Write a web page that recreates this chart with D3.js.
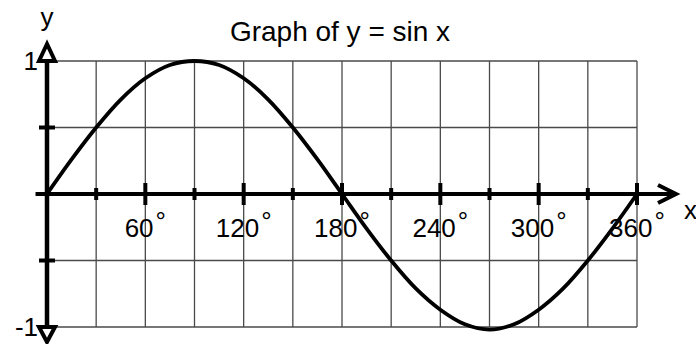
<!DOCTYPE html>
<html>
<head>
<meta charset="utf-8">
<script src="https://cdn.jsdelivr.net/npm/d3@7"></script>
<style>
  html, body { margin: 0; padding: 0; background: #fff; }
  svg { display: block; font-family: "Liberation Sans", Arial, sans-serif; }
</style>
</head>
<body>
<div id="chart"></div>
<script>
// ---------- DATA ----------
const angles = [0, 15, 30, 45, 60, 75, 90, 105, 120, 135, 150, 165, 180,
                195, 210, 225, 240, 255, 270, 285, 300, 315, 330, 345, 360];
const sinValues = [0, 0.26, 0.5, 0.71, 0.87, 0.97, 1.0, 0.97, 0.87, 0.71, 0.5, 0.26, 0,
                   -0.26, -0.5, -0.71, -0.87, -0.98, -1.02, -0.98, -0.87, -0.71, -0.5, -0.26, 0];
const gridX = [0, 30, 60, 90, 120, 150, 180, 210, 240, 270, 300, 330, 360];
const gridY = [-1, -0.5, 0, 0.5, 1];
const minorTicksX = [30, 90, 150, 210, 270, 330];
const majorTicksX = [60, 120, 180, 240, 300, 360];
const ticksY = [-0.5, 0.5];
const yLabels = [{ v: 1, t: "1" }, { v: -1, t: "-1" }];
const title = "Graph of y = sin x";

const W = 696, H = 344;

const svg = d3.select("#chart").append("svg")
  .attr("width", W)
  .attr("height", H);

// ---------- SCALES ----------
const x = d3.scaleLinear().domain([0, 360]).range([47, 637]);
const y = d3.scaleLinear().domain([-1, 1]).range([327, 61]);

// ---------- GRID ----------
const grid = svg.append("g").attr("stroke", "#4a4a4a").attr("stroke-width", 1.3);
grid.selectAll(".vg").data(gridX).join("line")
  .attr("x1", d => x(d)).attr("x2", d => x(d))
  .attr("y1", y(1)).attr("y2", y(-1));
grid.selectAll(".hg").data(gridY).join("line")
  .attr("x1", x(0)).attr("x2", x(360))
  .attr("y1", d => y(d)).attr("y2", d => y(d));

// ---------- AXES ----------
const axes = svg.append("g").attr("stroke", "#000").attr("fill", "none");

// x axis
axes.append("line")
  .attr("x1", x(-7)).attr("x2", x(360) + 37)
  .attr("y1", y(0)).attr("y2", y(0))
  .attr("stroke-width", 4);
axes.append("path")
  .attr("d", `M${x(360) + 21},${y(0) - 9} L${x(360) + 39},${y(0)} L${x(360) + 21},${y(0) + 9}`)
  .attr("stroke-width", 4)
  .attr("stroke-linejoin", "miter");

// y axis
axes.append("line")
  .attr("x1", x(0)).attr("x2", x(0))
  .attr("y1", y(1) - 14).attr("y2", y(-1) + 12)
  .attr("stroke-width", 4.5);
axes.append("path")
  .attr("d", `M${x(0)},${y(1) - 17} L${x(0) - 8},${y(1)} L${x(0) + 8},${y(1)} Z`)
  .attr("fill", "#fff")
  .attr("stroke-width", 4)
  .attr("stroke-linejoin", "miter");
axes.append("path")
  .attr("d", `M${x(0)},${y(-1) + 15} L${x(0) - 8},${y(-1)} L${x(0) + 8},${y(-1)} Z`)
  .attr("fill", "#fff")
  .attr("stroke-width", 4)
  .attr("stroke-linejoin", "miter");

// ticks
axes.selectAll(".minor").data(minorTicksX).join("line")
  .attr("x1", d => x(d)).attr("x2", d => x(d))
  .attr("y1", y(0) - 6).attr("y2", y(0) + 6)
  .attr("stroke-width", 4);
axes.selectAll(".major").data(majorTicksX).join("line")
  .attr("x1", d => x(d)).attr("x2", d => x(d))
  .attr("y1", y(0) - 11).attr("y2", y(0) + 11)
  .attr("stroke-width", 4);
axes.selectAll(".ytick").data(ticksY).join("line")
  .attr("x1", x(0) - 8).attr("x2", x(0) + 8)
  .attr("y1", d => y(d)).attr("y2", d => y(d))
  .attr("stroke-width", 4);

// ---------- CURVE ----------
const pts = angles.map((a, i) => [a, sinValues[i]]);
svg.append("path")
  .datum(pts)
  .attr("fill", "none")
  .attr("stroke", "#000")
  .attr("stroke-width", 3.8)
  .attr("d", d3.line().x(d => x(d[0])).y(d => y(d[1])).curve(d3.curveCatmullRom));

// ---------- LABELS ----------
const labels = svg.selectAll(".xl").data(majorTicksX).join("text")
  .attr("x", d => x(d))
  .attr("y", y(0) + 43)
  .attr("text-anchor", "middle")
  .style("font-size", "26px")
  .attr("fill", "#000");
labels.append("tspan").text(d => d);
labels.append("tspan").attr("dx", 2).attr("dy", -7).text("°");

svg.selectAll(".yl").data(yLabels).join("text")
  .attr("x", x(0) - 9)
  .attr("y", d => y(d.v) + 9)
  .attr("text-anchor", "end")
  .style("font-size", "26px")
  .text(d => d.t);

svg.append("text")
  .attr("x", x(0))
  .attr("y", 26)
  .attr("text-anchor", "middle")
  .style("font-size", "26px")
  .text("y");

svg.append("text")
  .attr("x", 684)
  .attr("y", y(0) + 25)
  .style("font-size", "26px")
  .text("x");

svg.append("text")
  .attr("x", 340)
  .attr("y", 41)
  .attr("text-anchor", "middle")
  .style("font-size", "28px")
  .text(title);
</script>
</body>
</html>
